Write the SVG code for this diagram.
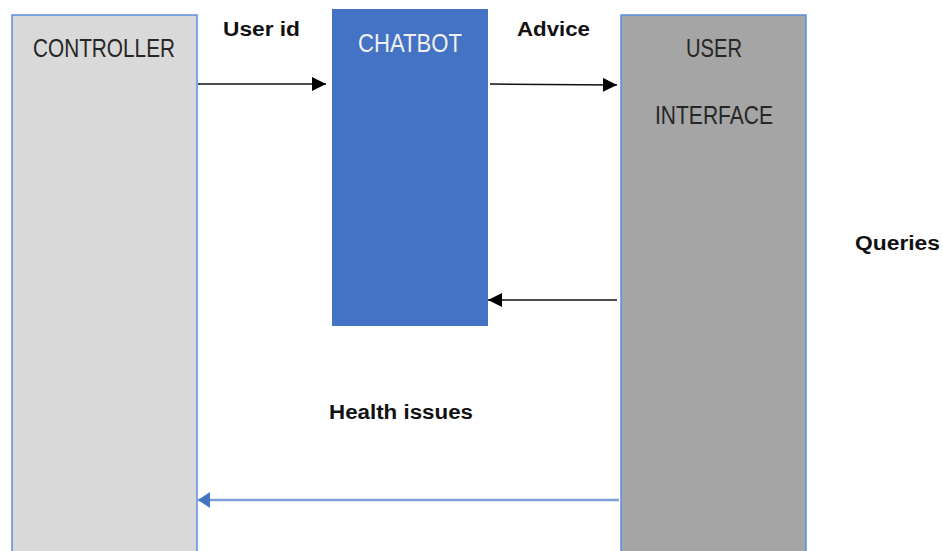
<svg xmlns="http://www.w3.org/2000/svg" width="943" height="551" viewBox="0 0 943 551">
<defs>
<style>
.box{stroke:#5B8BE0;stroke-width:1.5}
.name{font-family:"Liberation Sans",Arial,sans-serif;font-size:25px;fill:#262626}
.lbl{font-family:"Liberation Sans",Arial,sans-serif;font-size:20px;font-weight:bold;fill:#111}
.blk{stroke:#111;stroke-width:1.5;fill:none}
.blu{stroke:#7FA0DA;stroke-width:2.5;fill:none}
</style>
<marker id="ah" markerWidth="14" markerHeight="14" refX="14" refY="7" orient="auto" markerUnits="userSpaceOnUse" viewBox="0 0 14 14"><path d="M0,0 L14,7 L0,14 Z" fill="#000"/></marker>
<marker id="ahb" markerWidth="12" markerHeight="16" refX="12" refY="8" orient="auto" markerUnits="userSpaceOnUse" viewBox="0 0 12 16"><path d="M0,0 L12,8 L0,16 Z" fill="#4472C4"/></marker>
</defs>
<rect width="943" height="551" fill="#fff"/>
<g id="controller">
<rect class="box" x="12" y="15" width="185" height="545" fill="#D9D9D9"/>
<text class="name" x="33" y="57" textLength="142" lengthAdjust="spacingAndGlyphs">CONTROLLER</text>
</g>
<g id="chatbot">
<rect x="332" y="9" width="156" height="317" fill="#4472C4"/>
<text class="name" x="358" y="52" textLength="104" lengthAdjust="spacingAndGlyphs" style="fill:#F0F0F0">CHATBOT</text>
</g>
<g id="user-interface">
<rect class="box" x="621" y="15" width="185" height="545" fill="#A5A5A5"/>
<text class="name" x="686" y="57" textLength="56" lengthAdjust="spacingAndGlyphs">USER</text>
<text class="name" x="655" y="124" textLength="118" lengthAdjust="spacingAndGlyphs">INTERFACE</text>
</g>
<g id="connectors">
<line class="blk" x1="198" y1="84" x2="326" y2="84" marker-end="url(#ah)"/>
<line class="blk" x1="490" y1="84" x2="617" y2="85" marker-end="url(#ah)"/>
<line class="blk" x1="617" y1="300" x2="488" y2="300" marker-end="url(#ah)"/>
<line class="blu" x1="619" y1="500" x2="198" y2="500" marker-end="url(#ahb)"/>
</g>
<g id="labels">
<text class="lbl" x="223" y="36" textLength="77" lengthAdjust="spacingAndGlyphs">User id</text>
<text class="lbl" x="517" y="36" textLength="73" lengthAdjust="spacingAndGlyphs">Advice</text>
<text class="lbl" x="855" y="250" textLength="85" lengthAdjust="spacingAndGlyphs">Queries</text>
<text class="lbl" x="329" y="419" textLength="144" lengthAdjust="spacingAndGlyphs">Health issues</text>
</g>
</svg>
